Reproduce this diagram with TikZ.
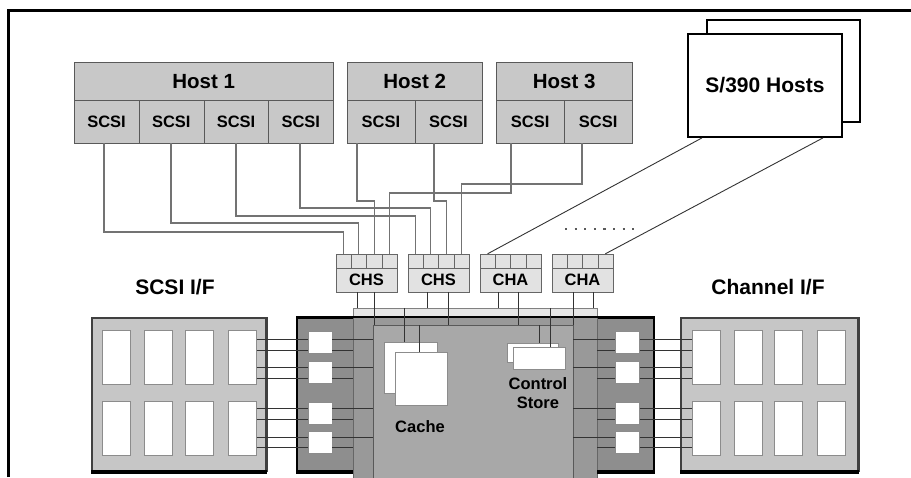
\documentclass[tikz,border=0pt]{standalone}
\usepackage{fontspec}
\setmainfont{Liberation Sans}
\definecolor{grigiohost}{HTML}{C8C8C8}
\definecolor{grigioif}{HTML}{C6C6C6}
\definecolor{grigiochiaro}{HTML}{E2E2E2}
\definecolor{grigioscuro}{HTML}{8E8E8E}
\definecolor{grigiobus}{HTML}{999999}
\definecolor{grigiocore}{HTML}{A8A8A8}
\definecolor{grigiostriscia}{HTML}{E6E6E6}
\begin{document}
\begin{tikzpicture}[x=1pt, y=-1pt]
    % Definizione stili
    \tikzstyle{hosthead}=[draw=black!65, fill=grigiohost, anchor=north west, inner sep=0pt, minimum height=38pt, font=\bfseries\fontsize{20.5}{21}\selectfont]
    \tikzstyle{scsicell}=[draw=black!65, fill=grigiohost, anchor=north west, inner sep=0pt, minimum height=43pt, font=\bfseries\fontsize{16.5}{17}\selectfont]
    \tikzstyle{hostcard}=[draw, line width=1.8pt, fill=white, inner sep=0pt, font=\bfseries\fontsize{21}{21}\selectfont]
    \tikzstyle{chport}=[draw=black!60, fill=grigiochiaro, inner sep=0pt, minimum width=15.25pt, minimum height=14pt]
    \tikzstyle{chlabel}=[draw=black!60, fill=grigiochiaro, inner sep=0pt, minimum width=61pt, minimum height=24pt, font=\bfseries\fontsize{16.5}{17}\selectfont]
    \tikzstyle{ifbox}=[draw=black!75, line width=1.5pt, fill=grigioif, anchor=north west, inner sep=0pt, minimum height=153pt]
    \tikzstyle{slot}=[draw=black!45, line width=1pt, fill=white, inner sep=0pt, minimum width=28pt, minimum height=54pt]
    \tikzstyle{adapter}=[draw=black!45, fill=white, inner sep=0pt, minimum width=24pt, minimum height=22pt]
    \tikzstyle{memblock}=[draw=black!45, fill=white, inner sep=0pt, anchor=north west]
    \tikzstyle{panel}=[anchor=north west, inner sep=0pt]
    \tikzstyle{title}=[font=\bfseries\fontsize{21}{21}\selectfont]
    \tikzstyle{caption}=[font=\bfseries\fontsize{16.5}{19}\selectfont, align=center]
    \tikzstyle{wire}=[draw=black!55, line width=1.2pt]
    \tikzstyle{link}=[draw=black!80, line width=0.9pt]

    \useasboundingbox (0,0) rectangle (911,477);

    % Cornice
    \draw[line width=3pt] (8,477) -- (8,10) -- (911,10);

    % Host SCSI
    \node[hosthead, minimum width=259pt] (host1) at (74,62) {Host 1};
    \foreach \i in {1,...,4}
        \node[scsicell, minimum width=64.75pt] (h1_s\i) at ({74+64.75*(\i-1)},100) {SCSI};
    \node[hosthead, minimum width=135pt] (host2) at (347,62) {Host 2};
    \foreach \i in {1,2}
        \node[scsicell, minimum width=67.5pt] (h2_s\i) at ({347+67.5*(\i-1)},100) {SCSI};
    \node[hosthead, minimum width=136pt] (host3) at (496,62) {Host 3};
    \foreach \i in {1,2}
        \node[scsicell, minimum width=68pt] (h3_s\i) at ({496+68*(\i-1)},100) {SCSI};

    % Host S/390
    \node[hostcard, minimum width=153pt, minimum height=102pt] (s390_dietro) at (783.5,71) {};
    \node[hostcard, minimum width=154pt, minimum height=103pt] (s390) at (765,85.5) {S/390 Hosts};

    % Adattatori di canale
    \foreach \nome/\lab/\x in {chs1/CHS/336, chs2/CHS/408, cha1/CHA/480, cha2/CHA/552} {
        \node[chlabel] (\nome) at (\x+30.5,280) {\lab};
        \foreach \p in {1,...,4}
            \node[chport] (\nome_p\p) at ({\x+15.25*\p-7.625},261) {};
    }
    \draw[line width=2.2pt, dash pattern=on 2.2pt off 7.4pt, black!65] (565,229) -- (634,229);

    % Interfacce
    \node[title] (sif_titolo) at (175,287) {SCSI I/F};
    \node[title] (cif_titolo) at (768,287) {Channel I/F};
    \node[ifbox, minimum width=174pt] (sif) at (91,317) {};
    \node[ifbox, minimum width=177pt] (cif) at (680,317) {};
    \foreach \r/\y in {1/357, 2/428} {
        \foreach \c/\x in {1/116, 2/158, 3/199.5, 4/242}
            \node[slot] (sif_\r\c) at (\x,\y) {};
        \foreach \c/\x in {1/706, 2/748, 3/788.5, 4/831.5}
            \node[slot] (cif_\r\c) at (\x,\y) {};
    }
    \draw[line width=2.5pt, black!75] (sif.north east) -- (sif.south east);
    \draw[line width=2.5pt, black!75] (cif.north east) -- (cif.south east);
    \draw[line width=4pt] (sif.south west) -- (sif.south east);
    \draw[line width=4pt] (cif.south west) -- (cif.south east);

    % Controllore
    \node[panel, draw=black!50, fill=grigiostriscia, minimum width=244pt, minimum height=175pt] (bus_strip) at (353,308) {};
    \node[panel, draw=black, line width=1.5pt, fill=grigioscuro, minimum width=357pt, minimum height=153pt] (controller) at (296,317) {};
    \node[panel, draw=black!60, fill=grigiobus, minimum width=244pt, minimum height=166pt] (bus) at (353,317) {};
    \node[panel, draw=black!65, fill=grigiocore, minimum width=200pt, minimum height=158pt] (core) at (373,325) {};
    \draw[line width=1.5pt] (controller.north west) -- (controller.north east);
    \draw[line width=4pt] (controller.south west) -- (controller.south west -| bus.west);
    \draw[line width=4pt] (controller.south east) -- (controller.south east -| bus.east);

    % Cache e control store
    \node[memblock, minimum width=53pt, minimum height=51pt] (cache_dietro) at (384,342) {};
    \node[memblock, minimum width=52pt, minimum height=53pt] (cache) at (395,352) {};
    \node[caption] (cache_lab) at (420,427) {Cache};
    \node[memblock, minimum width=51pt, minimum height=19pt] (cs_dietro) at (507,343) {};
    \node[memblock, minimum width=52pt, minimum height=22pt] (cs) at (513,347) {};
    \node[caption] (cs_lab) at (538,393) {Control\\Store};

    \foreach \i/\y in {1/342.5, 2/372, 3/413, 4/442.5} {
        \node[adapter] (ad_l\i) at (320,\y) {};
        \node[adapter] (ad_r\i) at (627.5,\y) {};
    }

    % Collegamenti host - CHS
    \foreach \da/\xa/\a/\yy in {h1_s1/104/chs1_p1/232, h1_s2/171/chs1_p2/223, h1_s3/236/chs2_p1/216, h1_s4/300/chs2_p2/208,
                               h2_s1/357/chs1_p3/201, h2_s2/434/chs2_p3/201, h3_s1/511/chs1_p4/193, h3_s2/582/chs2_p4/184}
        \draw[wire] (\da.south -| \xa,0) |- (\a.north |- 0,\yy) -- (\a.north);

    % Collegamenti S/390 - CHA
    \draw[link] (s390.south -| 702,0) -- (cha1_p1.north);
    \draw[link] (s390.south -| 823,0) -- (cha2_p4.north);

    % Collegamenti interni
    \foreach \n/\xa/\xb in {chs1/357/374, chs2/427/448, cha1/498/518, cha2/593/573} {
        \draw[link] (\n.south -| \xa,0) -- (bus_strip.north -| \xa,0);
        \draw[link] (\n.south -| \xb,0) -- (core.north -| \xb,0);
    }
    \draw[link] (bus_strip.north -| 404,0) -- (cache_dietro.north -| 404,0);
    \draw[link] (core.north -| 419,0) -- (cache.north -| 419,0);
    \draw[link] (core.north -| 539,0) -- (cs_dietro.north -| 539,0);
    \draw[link] (bus_strip.north -| 550,0) -- (cs.north -| 550,0);

    \foreach \y/\i/\r/\dest in {339/1/1/core, 350/1/1/bus, 367/2/1/core, 378/2/1/bus,
                                408/3/2/core, 419/3/2/bus, 437/4/2/core, 447/4/2/bus} {
        \draw[link] (sif_\r4.east |- 0,\y) -- (ad_l\i.west |- 0,\y);
        \draw[link] (ad_l\i.east |- 0,\y) -- (\dest.west |- 0,\y);
        \draw[link] (\dest.east |- 0,\y) -- (ad_r\i.west |- 0,\y);
        \draw[link] (ad_r\i.east |- 0,\y) -- (cif_\r1.west |- 0,\y);
    }
\end{tikzpicture}
\end{document}
